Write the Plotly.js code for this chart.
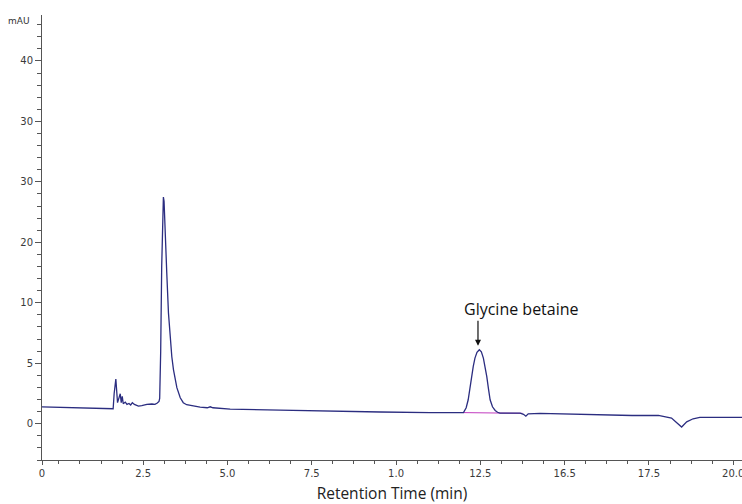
<!DOCTYPE html>
<html>
<head>
<meta charset="utf-8">
<script src="https://cdn.plot.ly/plotly-3.0.1.min.js"></script>
<style>html,body{margin:0;padding:0;background:#fff;}#chart{width:742px;height:504px;}</style>
</head>
<body>
<div id="chart"></div>
<script>
// Retention time (min) and detector signal (axis units)
const time = [-0.5, 0.5, 1.0, 1.61, 1.64, 1.69, 1.74, 1.79, 1.82, 1.85, 1.88, 1.91, 1.97, 2.02, 2.08, 2.13, 2.18, 2.24, 2.36, 2.46, 2.61, 2.76, 2.85, 2.92, 2.97, 2.99, 3.02, 3.05, 3.07, 3.09, 3.10, 3.12, 3.15, 3.20, 3.25, 3.30, 3.35, 3.40, 3.45, 3.50, 3.60, 3.69, 3.79, 3.94, 4.19, 4.40, 4.49, 4.57, 5.08, 6.56, 8.04, 9.53, 11.01, 11.78, 12.00, 12.08, 12.14, 12.19, 12.24, 12.29, 12.34, 12.40, 12.47, 12.53, 12.59, 12.64, 12.69, 12.74, 12.79, 12.86, 12.94, 13.01, 13.08, 13.68, 13.78, 13.85, 13.92, 14.27, 15.16, 16.05, 17.0, 17.78, 18.17, 18.30, 18.47, 18.62, 18.81, 19.01, 20.26];
const signal = [1.40, 1.33, 1.28, 1.24, 2.5, 3.69, 1.74, 2.2, 2.48, 1.74, 2.26, 1.65, 1.79, 1.60, 1.68, 1.55, 1.74, 1.60, 1.46, 1.49, 1.60, 1.63, 1.60, 1.71, 1.84, 2.1, 6.0, 13.0, 16.5, 18.3, 18.74, 18.4, 16.61, 12.48, 9.17, 7.19, 5.54, 4.46, 3.64, 2.98, 2.15, 1.74, 1.57, 1.49, 1.38, 1.32, 1.40, 1.32, 1.21, 1.13, 1.02, 0.97, 0.91, 0.88, 0.93, 1.32, 1.98, 2.9, 3.91, 4.75, 5.43, 5.9, 6.12, 5.95, 5.43, 4.75, 3.91, 2.9, 1.98, 1.4, 1.10, 0.95, 0.88, 0.88, 0.78, 0.62, 0.82, 0.85, 0.80, 0.70, 0.68, 0.69, 0.47, 0.15, -0.27, 0.15, 0.41, 0.52, 0.52];

// Integration baseline under the glycine betaine peak
const baseTime = [12.0, 13.75];
const baseSignal = [0.92, 0.86];

// Tick labels as printed on the reference
const xTickVals = [-0.5, 2.5, 5, 7.5, 10, 12.5, 15, 17.5, 20];
const xTickText = ['0', '2.5', '5.0', '7.5', '1.0', '12.5', '16.5', '17.5', '20.0'];
const yTickVals = [0, 5, 10, 15, 20, 25, 30];
const yTickText = ['0', '5', '10', '20', '30', '30', '40'];

const peakLabel = 'Glycine betaine';
const peakTime = 12.43;
const peakTop = 6.45;

const traces = [
  {x: baseTime, y: baseSignal, type: 'scatter', mode: 'lines',
   line: {color: '#c23cc0', width: 1}, hoverinfo: 'skip', showlegend: false},
  {x: time, y: signal, type: 'scatter', mode: 'lines',
   line: {color: '#2b2d80', width: 1.3}, showlegend: false}
];

const axisFont = {family: 'DejaVu Sans, sans-serif', size: 10, color: '#3a3a3a'};

const layout = {
  width: 742, height: 504,
  margin: {l: 42, r: 0, t: 15, b: 44, pad: 0},
  paper_bgcolor: '#fff', plot_bgcolor: '#fff',
  showlegend: false,
  xaxis: {
    range: [-0.5, 20.26], showgrid: false, zeroline: false,
    showline: true, linecolor: '#555', linewidth: 1,
    tickmode: 'array', tickvals: xTickVals, ticktext: xTickText,
    ticks: 'outside', ticklen: 4, tickcolor: '#555', tickfont: axisFont,
    ticklabeloverflow: 'allow',
    minor: {tickmode: 'linear', tick0: 0, dtick: 0.625, ticks: 'outside', ticklen: 3, tickcolor: '#555', showgrid: false},
    title: {text: 'Retention Time (min)', font: {family: 'Open Sans, sans-serif', size: 15.5, color: '#222'}, standoff: 12}
  },
  yaxis: {
    range: [-3, 33.8], showgrid: false, zeroline: false,
    showline: true, linecolor: '#555', linewidth: 1,
    tickmode: 'array', tickvals: yTickVals, ticktext: yTickText,
    ticks: 'outside', ticklen: 6, tickcolor: '#555', tickfont: axisFont,
    minor: {tickmode: 'linear', tick0: 0, dtick: 1, ticks: 'outside', ticklen: 4, tickcolor: '#555', showgrid: false}
  },
  annotations: [
    {xref: 'x', yref: 'y', x: -0.5, y: 33.8, text: 'mAU', showarrow: false,
     xanchor: 'right', yanchor: 'middle', xshift: -10, yshift: -6,
     font: {family: 'DejaVu Sans, sans-serif', size: 9, color: '#333'}},
    {xref: 'x', yref: 'y', x: peakTime, y: peakTop, text: ' ', showarrow: true,
     ax: 0, ay: -32, arrowhead: 2, arrowsize: 1, arrowwidth: 1.2, arrowcolor: '#111',
     font: {size: 8}},
    {xref: 'x', yref: 'y', x: peakTime + 1.3, y: peakTop, text: peakLabel, showarrow: false,
     xanchor: 'center', yanchor: 'middle', yshift: 37,
     font: {family: 'Open Sans, sans-serif', size: 16, color: '#111'}}
  ]
};

Plotly.newPlot('chart', traces, layout, {displayModeBar: false, staticPlot: true});
</script>
</body>
</html>
